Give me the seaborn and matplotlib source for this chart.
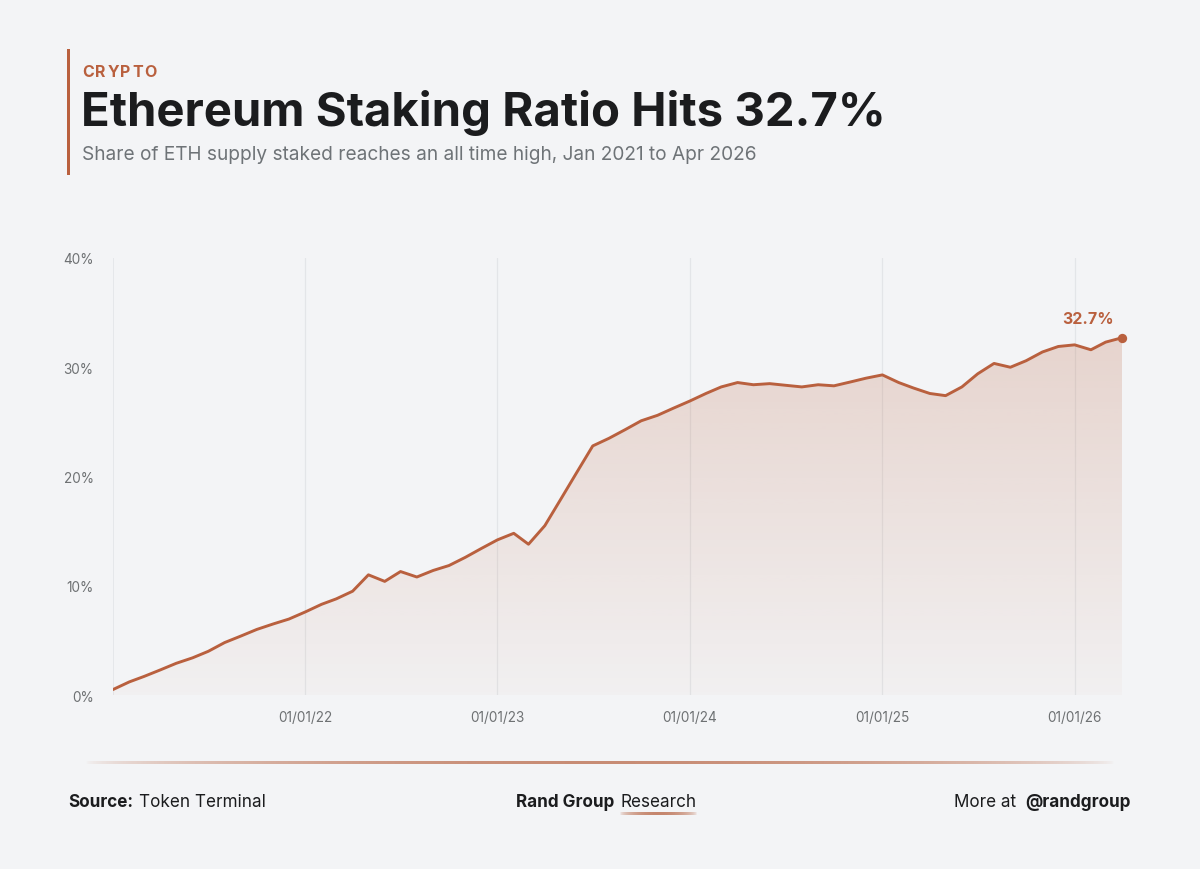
import numpy as np
import pandas as pd
import matplotlib
matplotlib.use("Agg")
import matplotlib.pyplot as plt
import matplotlib.dates as mdates
import matplotlib.patches as mpatches
import seaborn as sns

# ---------------- data ----------------
months = pd.date_range("2021-01-01", "2026-04-01", freq="MS")
staking_ratio = [
    0.5, 1.2, 1.7, 2.3, 2.9, 3.4, 4.0, 4.8, 5.4, 6.0, 6.5, 6.95,            # 2021
    7.6, 8.3, 8.8, 9.5, 11.0, 10.4, 11.3, 10.8, 11.4, 11.85, 12.6, 13.4,    # 2022
    14.2, 14.8, 13.8, 15.5, 17.9, 20.4, 22.8, 23.5, 24.3, 25.1, 25.6, 26.25, # 2023
    26.9, 27.6, 28.2, 28.6, 28.4, 28.5, 28.35, 28.2, 28.4, 28.3, 28.65, 29.0, # 2024
    29.3, 28.6, 28.1, 27.6, 27.4, 28.2, 29.4, 30.35, 30.0, 30.6, 31.4, 31.9, # 2025
    32.05, 31.6, 32.3, 32.7,                                                  # 2026
]
year_ticks = pd.to_datetime(["2022-01-01", "2023-01-01", "2024-01-01", "2025-01-01", "2026-01-01"])
y_ticks = [0, 10, 20, 30, 40]
y_tick_labels = ["0%", "10%", "20%", "30%", "40%"]

category = "CRYPTO"
title = "Ethereum Staking Ratio Hits 32.7%"
subtitle = "Share of ETH supply staked reaches an all time high, Jan 2021 to Apr 2026"
end_label = "32.7%"

df = pd.DataFrame({"date": months, "ratio": staking_ratio})

# ---------------- style ----------------
BG = "#F3F4F6"
ACCENT = "#B9603E"
GRID = "#E3E5E8"
TICK = "#6E7173"
DARK = "#1B1C1E"
SUB = "#6E7377"
FONT = ["Inter", "DejaVu Sans"]

sns.set_theme(style="white")
plt.rcParams["font.family"] = FONT

W, H = 1200, 870
fig = plt.figure(figsize=(W / 100, H / 100), dpi=100)
fig.patch.set_facecolor(BG)
renderer = fig.canvas.get_renderer()


def fx(x):
    return x / W


def fy(y):
    return 1 - y / H


# ---------------- axes ----------------
ax = fig.add_axes([fx(113), fy(696), (1122 - 113) / W, (696 - 259) / H])
ax.set_facecolor(BG)

sns.lineplot(data=df, x="date", y="ratio", ax=ax, color=ACCENT, linewidth=2.1, zorder=4)

# gradient area fill under the line
poly = ax.fill_between(df["date"], df["ratio"], 0, color="none", linewidth=0)
x0 = mdates.date2num(df["date"].iloc[0])
x1 = mdates.date2num(df["date"].iloc[-1])
ymax = max(staking_ratio)
n = 256
yy = np.linspace(ymax, 0, n)
alpha = 0.03 + 0.0062 * yy
rgb = matplotlib.colors.to_rgb("#BE6A48")
grad = np.zeros((n, 1, 4))
grad[..., 0], grad[..., 1], grad[..., 2] = rgb
grad[:, 0, 3] = alpha
im = ax.imshow(grad, extent=[x0, x1, 0, ymax], aspect="auto", zorder=2, interpolation="bilinear")
path = poly.get_paths()[0]
im.set_clip_path(path, transform=ax.transData)

# end point marker + label
last_date = df["date"].iloc[-1]
last_val = staking_ratio[-1]
ax.scatter([last_date], [last_val], s=45, color=ACCENT, zorder=5, clip_on=False, linewidths=0)
ax.annotate(end_label, (last_date, last_val), xytext=(-34, 19), textcoords="offset pixels",
            ha="center", va="center", fontsize=11.5, fontweight="bold", color=ACCENT,
            family=FONT)

ax.set_xlim(mdates.date2num(pd.Timestamp("2021-01-01")), x1)
ax.set_ylim(0, 40)

ax.set_xticks(year_ticks)
ax.xaxis.set_major_formatter(mdates.DateFormatter("%m/%d/%y"))
ax.set_yticks(y_ticks)
ax.set_yticklabels(y_tick_labels)
ax.tick_params(axis="both", length=0, labelsize=9.8, labelcolor=TICK)
ax.tick_params(axis="y", pad=14)
ax.tick_params(axis="x", pad=11)
ax.grid(False)
ax.xaxis.grid(True, color=GRID, linewidth=0.9, zorder=0)
ax.axvline(pd.Timestamp("2021-01-01"), color=GRID, linewidth=1.2, zorder=0)
for s in ax.spines.values():
    s.set_visible(False)
ax.set_xlabel("")
ax.set_ylabel("")


# ---------------- text helpers ----------------
def fit_size(txt, weight, target_w, base=20):
    t = fig.text(0, 0, txt, fontsize=base, fontweight=weight, family=FONT)
    w = t.get_window_extent(renderer).width
    t.remove()
    return base * target_w / w


def text_width(txt, weight, size):
    t = fig.text(0, 0, txt, fontsize=size, fontweight=weight, family=FONT)
    w = t.get_window_extent(renderer).width
    t.remove()
    return w


# header accent bar
fig.add_artist(mpatches.Rectangle((fx(67), fy(176)), 3 / W, (176 - 50) / H,
                                  transform=fig.transFigure, color=ACCENT, linewidth=0))

# category with letter spacing (advance measured as prefix width "HHx" - "HH")
cat_size = 11.5
ref_w = text_width("H", "bold", cat_size)
adv = [text_width("H" + c + "H", "bold", cat_size) - 2 * ref_w for c in category]
natural = sum(adv)
track = (157 - 82 - natural) / (len(category) - 1)
cx = 82
for c, a in zip(category, adv):
    fig.text(fx(cx), fy(77), c, fontsize=cat_size, fontweight="bold", color=ACCENT,
             ha="left", va="baseline", family=FONT)
    cx += a + track

# title
ts = fit_size(title, "bold", 887 - 82)
fig.text(fx(81), fy(126), title, fontsize=ts, fontweight="bold", color=DARK,
         ha="left", va="baseline", family=FONT)

# subtitle
ss = fit_size(subtitle, "normal", 757 - 82)
fig.text(fx(82), fy(160), subtitle, fontsize=ss, color=SUB,
         ha="left", va="baseline", family=FONT)

# footer separator gradient line
lax = fig.add_axes([fx(85), fy(764.5), 1030 / W, 2.2 / H])
lax.axis("off")
t = np.linspace(0, 1, 512)
line_grad = np.zeros((1, 512, 4))
line_grad[0, :, :3] = matplotlib.colors.to_rgb("#C07A5E")
line_grad[0, :, 3] = np.clip(np.sin(np.pi * t) ** 0.6, 0, 1) * 0.85
lax.imshow(line_grad, aspect="auto", extent=[0, 1, 0, 1], interpolation="bilinear")
lax.set_xlim(0, 1)
lax.set_ylim(0, 1)

# footer texts
fs = 12.3
base_y = fy(807.5)
gap = 6

# left
w_src = text_width("Source:", "bold", fs)
fig.text(fx(68), base_y, "Source:", fontsize=fs, fontweight="bold", color=DARK, va="baseline")
fig.text(fx(68 + w_src + gap), base_y, "Token Terminal", fontsize=fs, color=DARK, va="baseline")

# center
w_rg = text_width("Rand Group", "bold", fs)
w_re = text_width("Research", "normal", fs)
total = w_rg + gap + w_re
start = 606 - total / 2
fig.text(fx(start), base_y, "Rand Group", fontsize=fs, fontweight="bold", color=DARK, va="baseline")
res_x = start + w_rg + gap
fig.text(fx(res_x), base_y, "Research", fontsize=fs, color=DARK, va="baseline")

uax = fig.add_axes([fx(res_x), fy(815.5), w_re / W, 2.2 / H])
uax.axis("off")
ug = np.zeros((1, 256, 4))
ug[0, :, :3] = matplotlib.colors.to_rgb("#C07A5E")
tt = np.linspace(0, 1, 256)
ug[0, :, 3] = np.clip(np.sin(np.pi * tt) ** 0.5, 0, 1) * 0.9
uax.imshow(ug, aspect="auto", extent=[0, 1, 0, 1], interpolation="bilinear")

# right
w_handle = text_width("@randgroup", "bold", fs)
w_more = text_width("More at", "normal", fs)
hx = 1131 - w_handle
fig.text(fx(hx), base_y, "@randgroup", fontsize=fs, fontweight="bold", color=DARK, va="baseline")
fig.text(fx(hx - gap - 4 - w_more), base_y, "More at", fontsize=fs, color=DARK, va="baseline")

fig.savefig("out.png", dpi=100, facecolor=BG)
